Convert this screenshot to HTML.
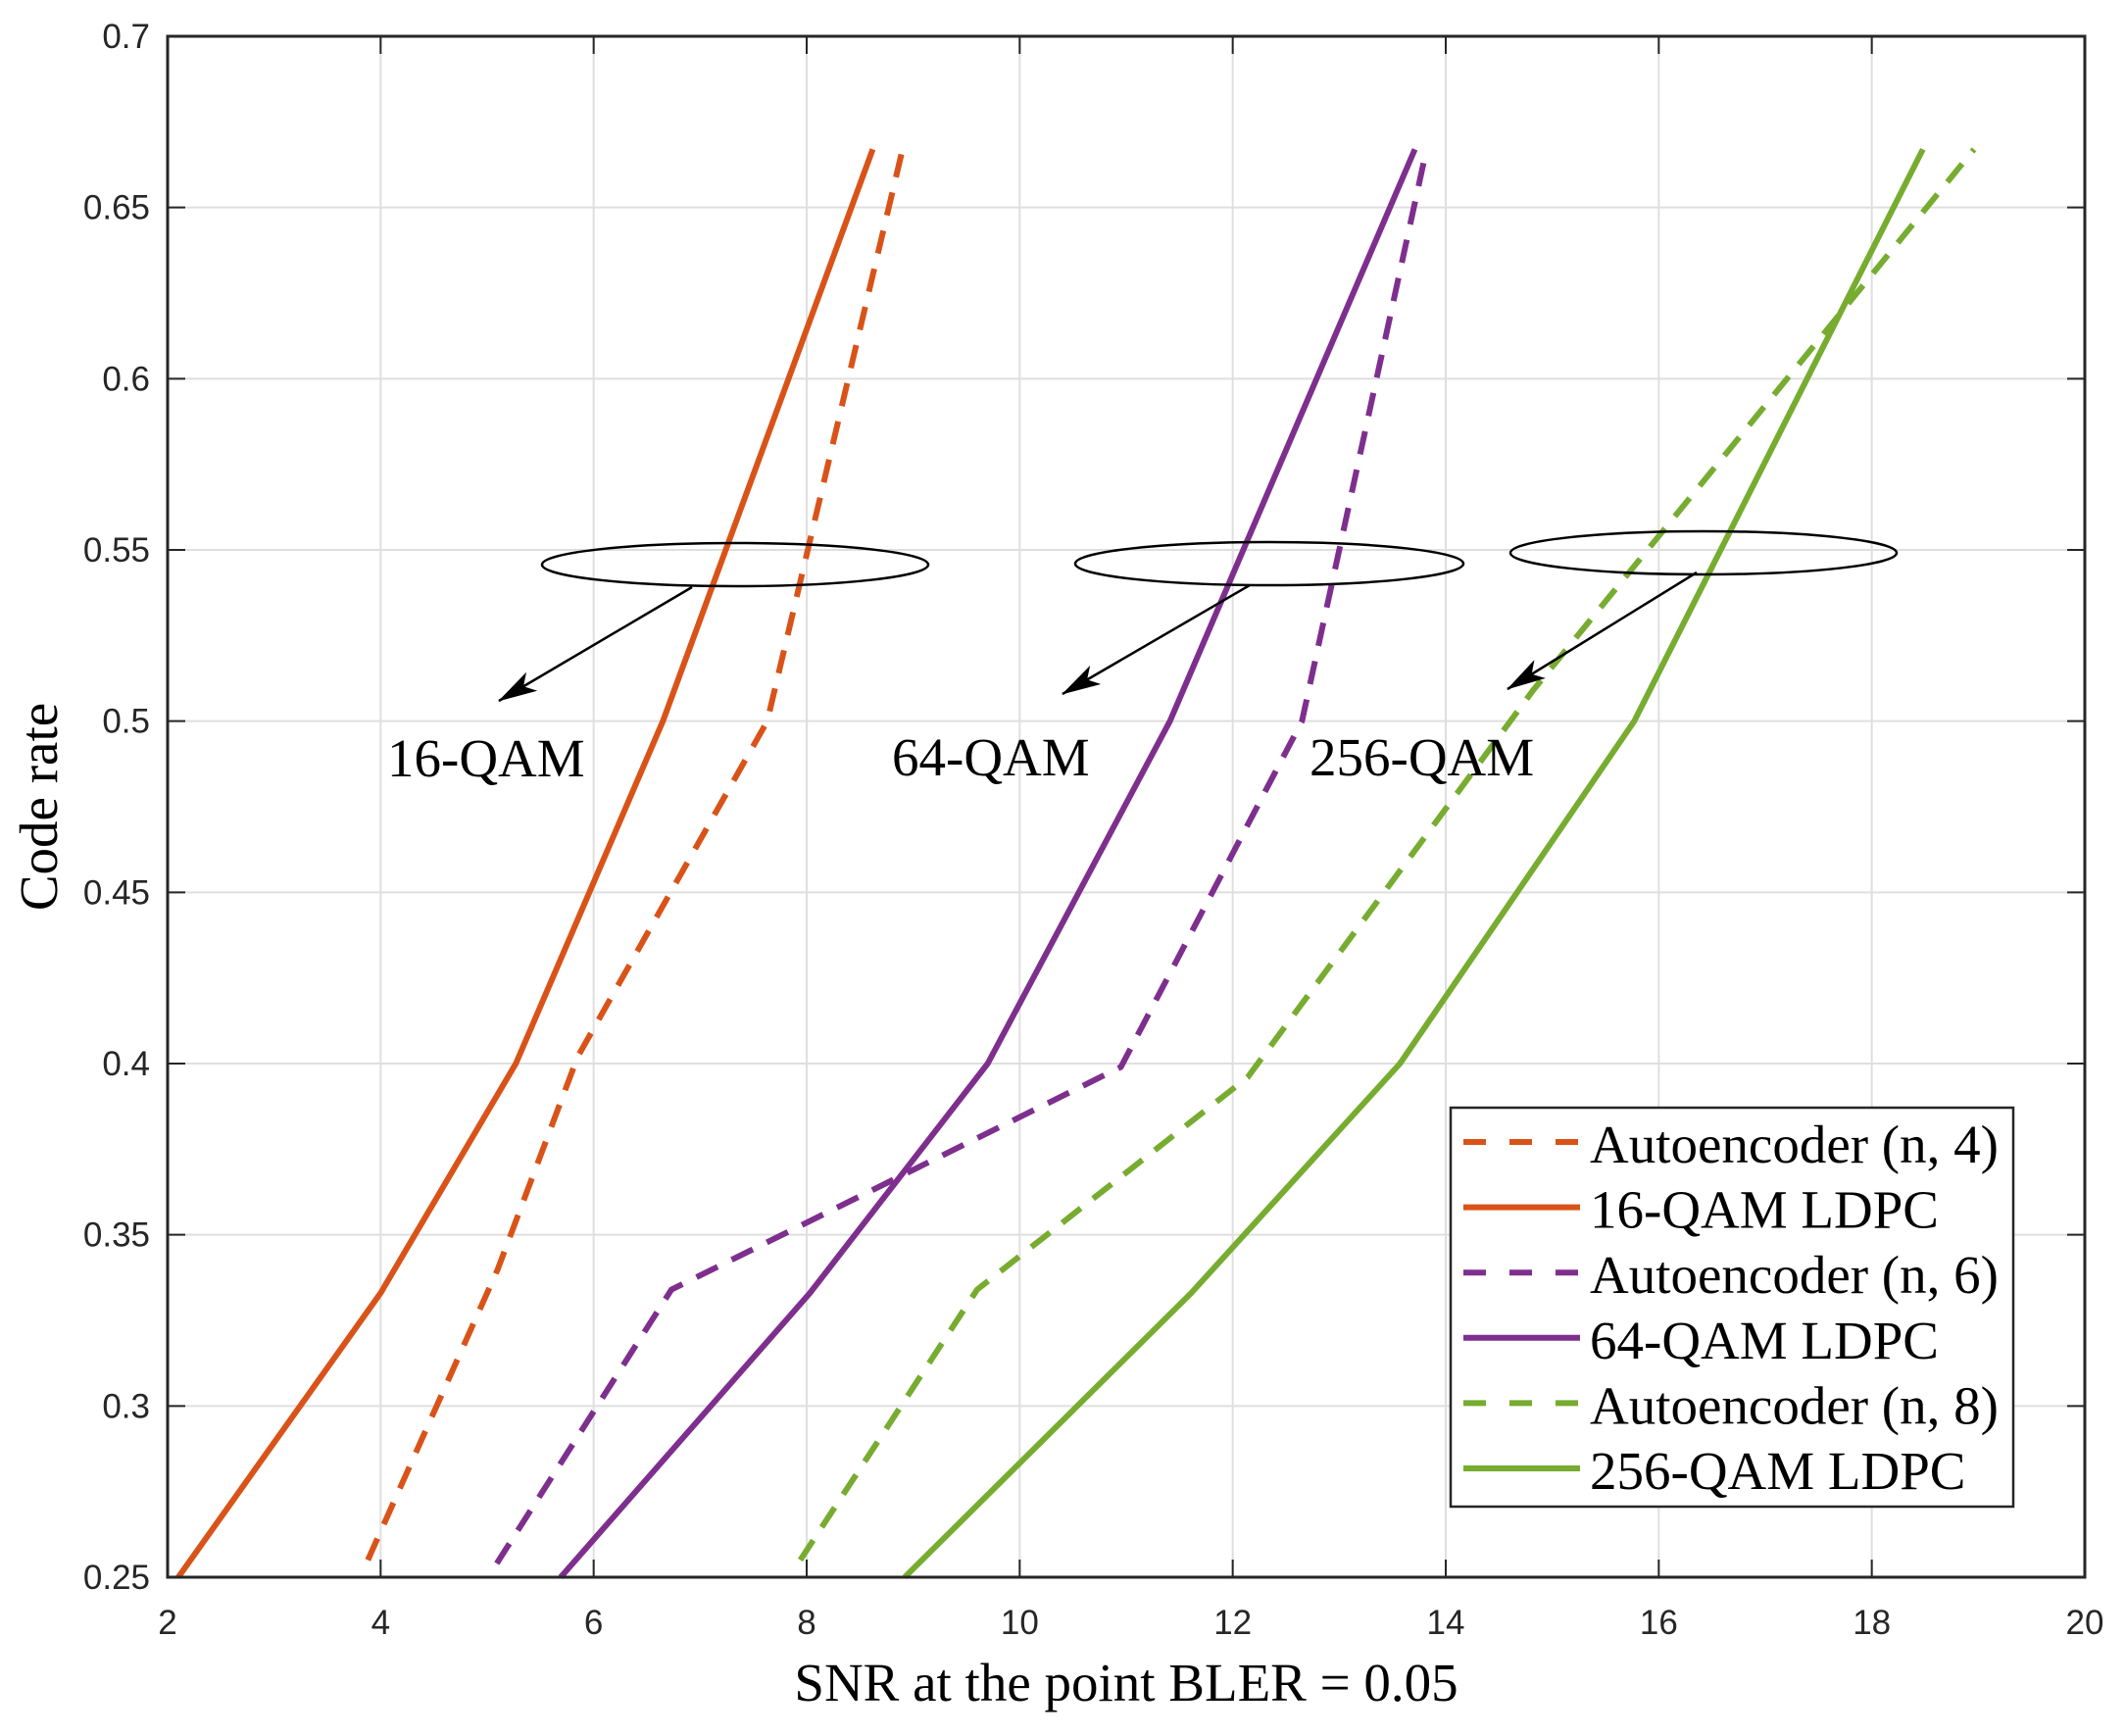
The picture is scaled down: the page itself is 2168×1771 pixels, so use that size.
<!DOCTYPE html>
<html><head><meta charset="utf-8"><style>
html,body{margin:0;padding:0;background:#fff;}
svg{display:block;}
.tick{font-family:"Liberation Sans",Arial,sans-serif;font-size:35px;fill:#262626;}
.tm{font-family:"Liberation Serif","Times New Roman",serif;font-size:55px;fill:#000;}
</style></head><body>
<svg id="chart" width="2168" height="1771" viewBox="0 0 2168 1771" xmlns="http://www.w3.org/2000/svg">
<defs><marker id="ah" markerWidth="40" markerHeight="22" refX="39" refY="11" orient="auto" markerUnits="userSpaceOnUse" viewBox="0 0 40 22"><path d="M0,0 L40,11 L0,22 L10,11 Z" fill="#000"/></marker></defs>
<g id="grid"></g>
<g id="series"></g>
<g id="annot"></g>
<g id="axes"></g>
<g id="legend"></g>
</svg>
<script>
const xTicks=[2,4,6,8,10,12,14,16,18,20];
const yTicks=[0.25,0.3,0.35,0.4,0.45,0.5,0.55,0.6,0.65,0.7];
const yTickLabels=["0.25","0.3","0.35","0.4","0.45","0.5","0.55","0.6","0.65","0.7"];
const ae4X=[3.88,5.1,5.85,7.63,8.9];
const ae4Y=[0.255,0.34,0.402,0.5,0.667];
const ldpc16X=[2.1,4.0,5.27,6.65,8.62];
const ldpc16Y=[0.25,0.333,0.4,0.5,0.667];
const ae6X=[5.09,6.73,10.95,12.65,13.82];
const ae6Y=[0.254,0.334,0.399,0.5,0.667];
const ldpc64X=[5.69,8.03,9.7,11.41,13.71];
const ldpc64Y=[0.25,0.333,0.4,0.5,0.667];
const ae8X=[7.94,9.6,12.14,14.82,18.96];
const ae8Y=[0.255,0.334,0.396,0.509,0.667];
const ldpc256X=[8.92,11.61,13.57,15.77,18.48];
const ldpc256Y=[0.25,0.333,0.4,0.5,0.667];
const seriesNames=["Autoencoder (n, 4)","16-QAM LDPC","Autoencoder (n, 6)","64-QAM LDPC","Autoencoder (n, 8)","256-QAM LDPC"];

const NS="http://www.w3.org/2000/svg";
const L=171,R=2127,T=37,B=1609;
const sx=v=>L+(v-2)/18*(R-L);
const sy=v=>B-(v-0.25)/0.45*(B-T);
function mk(tag,attrs,parent){const e=document.createElementNS(NS,tag);for(const k in attrs)e.setAttribute(k,attrs[k]);parent.appendChild(e);return e;}
const grid=document.getElementById('grid'),axes=document.getElementById('axes'),ser=document.getElementById('series'),ann=document.getElementById('annot'),leg=document.getElementById('legend');
xTicks.forEach((t,i)=>{
  const g=mk('line',{x1:sx(t),x2:sx(t),y1:T,y2:B,stroke:'#dfdfdf','stroke-width':2},grid);
  
  
  const tk=mk('line',{x1:sx(t),x2:sx(t),y1:B,y2:B-18,stroke:'#262626','stroke-width':2},axes);
  
  
  const tk2=mk('line',{x1:sx(t),x2:sx(t),y1:T,y2:T+18,stroke:'#262626','stroke-width':2},axes);
  
  
  const tx=mk('text',{x:sx(t),y:1667,'text-anchor':'middle',class:'tick'},axes);tx.textContent=String(t);
  
  
});
yTicks.forEach((t,i)=>{
  const g=mk('line',{x1:L,x2:R,y1:sy(t),y2:sy(t),stroke:'#dfdfdf','stroke-width':2},grid);
  
  
  const tk=mk('line',{x1:L,x2:L+18,y1:sy(t),y2:sy(t),stroke:'#262626','stroke-width':2},axes);
  
  
  const tk2=mk('line',{x1:R,x2:R-18,y1:sy(t),y2:sy(t),stroke:'#262626','stroke-width':2},axes);
  
  
  const tx=mk('text',{x:153,y:sy(t)+12,'text-anchor':'end',class:'tick'},axes);tx.textContent=yTickLabels[i];
  
  
});
const frame=mk('rect',{x:L,y:T,width:R-L,height:B-T,fill:'none',stroke:'#262626','stroke-width':3},axes);


const xl=mk('text',{x:(L+R)/2,y:1735,'text-anchor':'middle',class:'tm'},axes);xl.textContent='SNR at the point BLER = 0.05';


const yl=mk('text',{x:0,y:0,'text-anchor':'middle',class:'tm',transform:'translate(58,823) rotate(-90)'},axes);yl.textContent='Code rate';



const series=[[ae4X,ae4Y,'#D95319',true,'series-autoencoder-n4'],[ldpc16X,ldpc16Y,'#D95319',false,'series-16qam-ldpc'],[ae6X,ae6Y,'#7E2F8E',true,'series-autoencoder-n6'],[ldpc64X,ldpc64Y,'#7E2F8E',false,'series-64qam-ldpc'],[ae8X,ae8Y,'#77AC30',true,'series-autoencoder-n8'],[ldpc256X,ldpc256Y,'#77AC30',false,'series-256qam-ldpc']];
series.forEach(s=>{
  const pts=s[0].map((x,i)=>sx(x).toFixed(1)+','+sy(s[1][i]).toFixed(1)).join(' ');
  const a={points:pts,fill:'none',stroke:s[2],'stroke-width':6,'stroke-linejoin':'round'};
  if(s[3])a['stroke-dasharray']='24 16';
  const p=mk('polyline',a,ser);
  
  
});
const ells=[[750,576,197,22],[1295,575,198,22],[1738,564,197,22]];
const arrows=[[706,599,509,715],[1275,597,1084,708],[1731,584,1538,703]];
const labels=[['16-QAM',395,792],['64-QAM',910,791],['256-QAM',1336,791]];
ells.forEach(e=>{const el=mk('ellipse',{cx:e[0],cy:e[1],rx:e[2],ry:e[3],fill:'none',stroke:'#000','stroke-width':2.5},ann);
  
  });
arrows.forEach(a=>{const el=mk('line',{x1:a[0],y1:a[1],x2:a[2],y2:a[3],stroke:'#000','stroke-width':2.5,'marker-end':'url(#ah)'},ann);
  
  });
labels.forEach(l=>{const el=mk('text',{x:l[1],y:l[2],class:'tm'},ann);el.textContent=l[0];
  
  });
const lb=mk('rect',{x:1480,y:1130,width:574,height:407,fill:'#fff',stroke:'#262626','stroke-width':2.5},leg);


series.forEach((s,i)=>{
  const y=1165+i*66.6;
  const a={x1:1493,x2:1612,y1:y,y2:y,stroke:s[2],'stroke-width':6};
  if(s[3])a['stroke-dasharray']='23 24';
  const ln=mk('line',a,leg);
  
  
  const tx=mk('text',{x:1622,y:y+21,class:'tm'},leg);tx.textContent=seriesNames[i];
  
  
});
</script>
</body></html>
